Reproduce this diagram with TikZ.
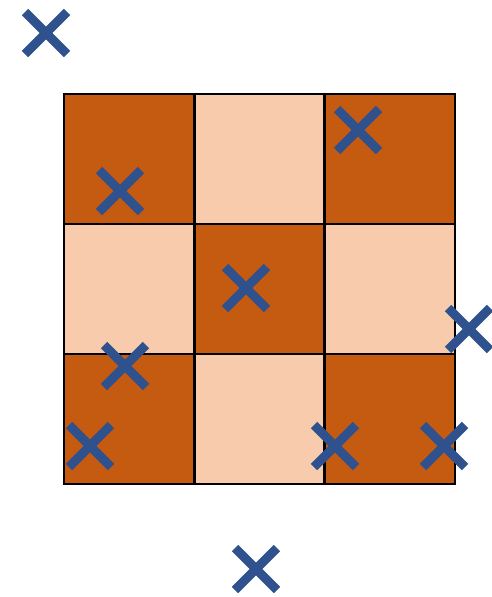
\documentclass[tikz,border=0pt]{standalone}
\definecolor{darkc}{HTML}{C55A11}
\definecolor{lightc}{HTML}{F8CBAD}
\definecolor{crossc}{HTML}{2F528F}
\tikzset{
  cell/.style={draw=black, line width=2.8pt, minimum size=130pt, inner sep=0pt, outer sep=0pt},
  darkcell/.style={cell, fill=darkc},
  lightcell/.style={cell, fill=lightc},
  crossline/.style={crossc, line width=9pt},
}
\newcommand{\mycross}[2]{%
  \node[inner sep=0pt, minimum size=0pt] (#1) at #2 {};
  \draw[crossline] ([shift={(-21pt,21pt)}]#1.center) -- ([shift={(21pt,-21pt)}]#1.center);
  \draw[crossline] ([shift={(-21pt,-21pt)}]#1.center) -- ([shift={(21pt,21pt)}]#1.center);
}
\begin{document}
\begin{tikzpicture}[x=1pt,y=-1pt]
\useasboundingbox (0,0) rectangle (491,597);
\node[darkcell]  (c11) at (129,159) {};
\node[lightcell] (c12) at (259.5,159) {};
\node[darkcell]  (c13) at (390,159) {};
\node[lightcell] (c21) at (129,289) {};
\node[darkcell]  (c22) at (259.5,289) {};
\node[lightcell] (c23) at (390,289) {};
\node[darkcell]  (c31) at (129,419) {};
\node[lightcell] (c32) at (259.5,419) {};
\node[darkcell]  (c33) at (390,419) {};
\mycross{x1}{(46,33)}
\mycross{x2}{(120,191)}
\mycross{x3}{(358,130)}
\mycross{x4}{(246,288)}
\mycross{x5}{(125,366)}
\mycross{x6}{(469,329)}
\mycross{x7}{(90,446)}
\mycross{x8}{(335,446)}
\mycross{x9}{(444,446)}
\mycross{x10}{(256,569)}
\end{tikzpicture}
\end{document}
